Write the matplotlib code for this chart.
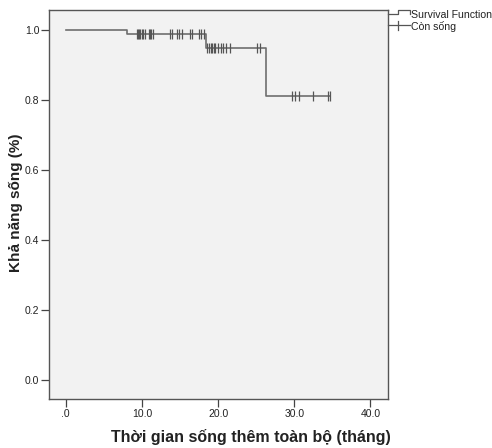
import numpy as np
import matplotlib.pyplot as plt
from matplotlib.lines import Line2D

plt.rcParams['font.family'] = ['Liberation Sans', 'DejaVu Sans']

# du lieu doc tu hinh: cac bac cua ham song con
step_times = [0.0, 8.1, 18.4, 26.3]
step_surv = [1.0, 0.987, 0.948, 0.812]
end_time = 34.7

# thoi diem kiem duyet (con song)
censor_times = [9.3, 9.45, 9.6, 9.75, 10.0, 10.2, 10.4, 10.9, 11.05, 11.2, 11.4,
                13.7, 13.9, 14.6, 14.8, 15.2, 16.3, 16.6, 17.5, 17.7, 18.1,
                18.6, 18.8, 19.0, 19.2, 19.4, 19.6, 20.0, 20.4, 20.7, 21.1, 21.6,
                25.1, 25.5,
                29.7, 30.1, 30.6, 32.5, 34.4, 34.7]

xticks = [0, 10, 20, 30, 40]
xtick_labels = ['.0', '10.0', '20.0', '30.0', '40.0']
yticks = [0.0, 0.2, 0.4, 0.6, 0.8, 1.0]
ytick_labels = ['0.0', '0.2', '0.4', '0.6', '0.8', '1.0']

W, H = 492, 448
fig = plt.figure(figsize=(W / 100, H / 100), dpi=100)
ax = fig.add_axes([49 / W, 1 - 399 / H, (388 - 49) / W, (399 - 10) / H])
ax.set_facecolor('#f2f2f2')

line_col = '#6e6e6e'
xs = step_times + [end_time]
ys = step_surv + [step_surv[-1]]
ax.step(xs, ys, where='post', color=line_col, lw=1.2)

# gia tri S(t) tai moi diem kiem duyet
def surv_at(t):
    idx = np.searchsorted(step_times, t, side='right') - 1
    return step_surv[idx]

cs = [surv_at(t) for t in censor_times]
ax.plot(censor_times, cs, linestyle='none', marker='|', markersize=7,
        markeredgewidth=0.9, color='#555555')

ax.set_xlim(-2.2, 42.3)
ax.set_ylim(-0.055, 1.057)
ax.set_xticks(xticks)
ax.set_xticklabels(xtick_labels)
ax.set_yticks(yticks)
ax.set_yticklabels(ytick_labels)
ax.tick_params(axis='both', labelsize=7.5, length=6, width=0.9, color='#444444',
               labelcolor='#222222', direction='out')
ax.tick_params(axis='y', pad=1)
ax.tick_params(axis='x', pad=1.5)
for s in ax.spines.values():
    s.set_color('#555555')
    s.set_linewidth(1.0)

ax.set_xlabel('Thời gian sống thêm toàn bộ (tháng)', fontsize=11.5, fontweight='bold',
              color='#222222')
ax.xaxis.set_label_coords((251 - 49) / 339, -(437 - 399) / 389)
ax.set_ylabel('Khả năng sống (%)', fontsize=11, fontweight='bold', color='#222222')
ax.yaxis.set_label_coords((16 - 49) / 339, (399 - 203) / 389)
ax.yaxis.label.set_va('center')
ax.xaxis.label.set_va('center')

# chu giai ben phai
def px(x, y):
    return x / W, 1 - y / H

lc = '#555555'
pts = [px(388, 14.5), px(398, 14.5), px(398, 10.5), px(410, 10.5), px(410, 14.5)]
fig.add_artist(Line2D([p[0] for p in pts], [p[1] for p in pts], color=lc, lw=0.9))
a, b = px(388, 25.5), px(410, 25.5)
fig.add_artist(Line2D([a[0], b[0]], [a[1], b[1]], color=lc, lw=0.9))
a, b = px(398, 21), px(398, 30)
fig.add_artist(Line2D([a[0], b[0]], [a[1], b[1]], color=lc, lw=0.9))
fig.text(*px(411, 15), 'Survival Function', fontsize=7.6, va='center', ha='left',
         color='#222222', fontstretch='condensed')
fig.text(*px(411, 26), 'Còn sống', fontsize=7.6, va='center', ha='left', color='#222222')

fig.savefig('out.png', dpi=100, facecolor='white')
